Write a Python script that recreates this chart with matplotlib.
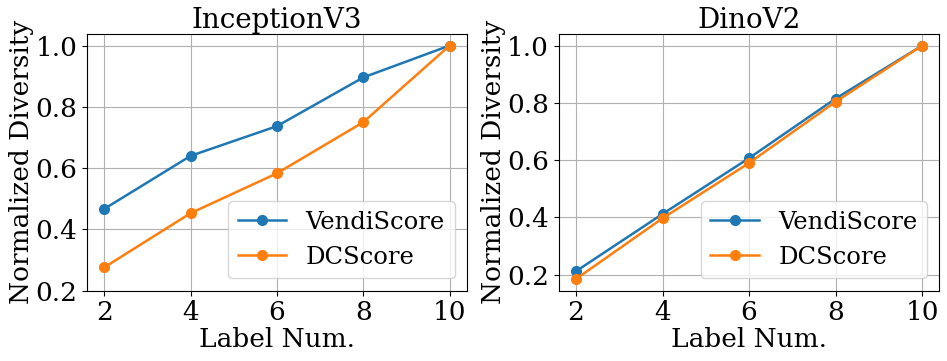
import numpy as np
import matplotlib
matplotlib.use("Agg")
import matplotlib.pyplot as plt

plt.rcParams['font.family'] = 'DejaVu Serif'

label_num = [2, 4, 6, 8, 10]

# InceptionV3 panel
inc_vendi = [0.467, 0.640, 0.737, 0.896, 1.0]
inc_dc = [0.276, 0.453, 0.583, 0.750, 1.0]

# DinoV2 panel
dino_vendi = [0.212, 0.412, 0.607, 0.815, 1.0]
dino_dc = [0.185, 0.397, 0.590, 0.804, 1.0]

panels = [
    ("InceptionV3", inc_vendi, inc_dc),
    ("DinoV2", dino_vendi, dino_dc),
]

fig = plt.figure(figsize=(9.47, 3.61), dpi=100)
ax1 = fig.add_axes([0.092, 0.195, 0.401, 0.711])
ax2 = fig.add_axes([0.590, 0.195, 0.402, 0.711])

for ax, (title, vendi, dc) in zip([ax1, ax2], panels):
    ax.plot(label_num, vendi, marker='o', markersize=7, linewidth=1.8,
            color='#1f77b4', label='VendiScore')
    ax.plot(label_num, dc, marker='o', markersize=7, linewidth=1.8,
            color='#ff7f0e', label='DCScore')
    ax.set_title(title, fontsize=20, pad=4)
    ax.set_xlabel('Label Num.', fontsize=19, labelpad=1)
    ax.set_ylabel('Normalized Diversity', fontsize=19, labelpad=1)
    ax.set_xticks(label_num)
    ax.tick_params(labelsize=19)
    ax.grid(True)
    ax.legend(loc='lower right', fontsize=17.5)

ax1.set_ylim(0.2, 1.038)
ax1.set_yticks([0.2, 0.4, 0.6, 0.8, 1.0])
ax2.set_yticks([0.2, 0.4, 0.6, 0.8, 1.0])

fig.savefig('out.png', dpi=100)
